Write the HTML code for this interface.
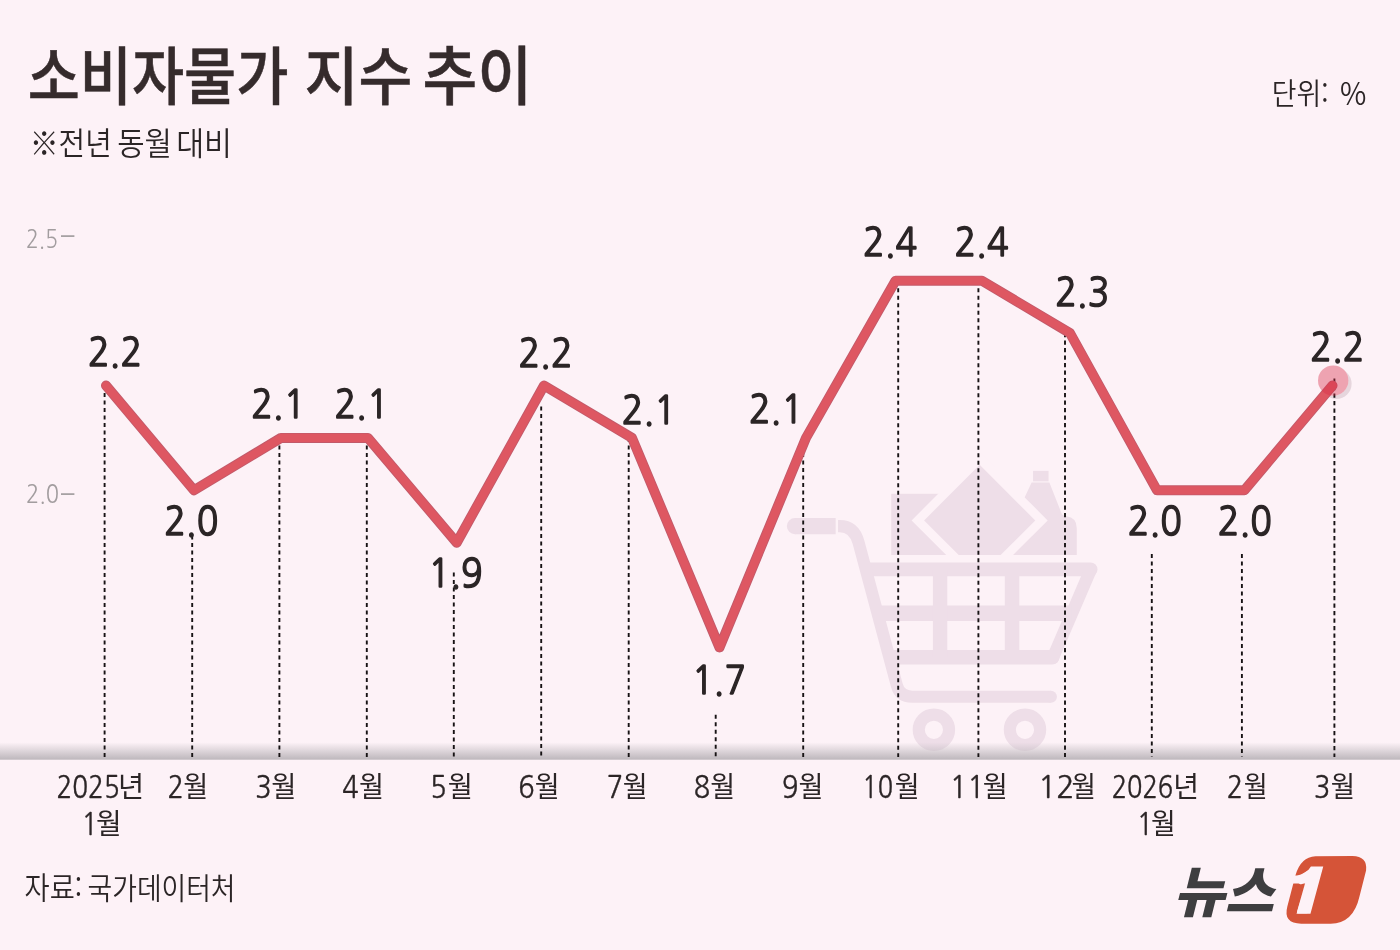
<!DOCTYPE html>
<html lang="ko"><head><meta charset="utf-8"><title>소비자물가 지수 추이</title>
<style>
html,body{margin:0;padding:0;background:#fdf2f7;}
body{width:1400px;height:950px;overflow:hidden;}
svg{display:block;}
text{font-family:"Liberation Sans","Noto Sans CJK KR",sans-serif;fill:#2b2526;}
</style></head><body>
<svg width="1400" height="950" viewBox="0 0 1400 950">
<defs>
<linearGradient id="band" x1="0" y1="0" x2="0" y2="1">
<stop offset="0" stop-color="#bdb7bc" stop-opacity="0"/>
<stop offset="1" stop-color="#bdb7bc" stop-opacity="1"/>
</linearGradient>
<clipPath id="itemclip"><rect x="300" y="0" width="700" height="312"/></clipPath>
</defs>
<rect width="1400" height="950" fill="#fdf2f7"/>

<line x1="61" x2="74.4" y1="236.1" y2="236.1" stroke="#a29d9f" stroke-width="1.7"/>
<line x1="61" x2="74.4" y1="494.1" y2="494.1" stroke="#a29d9f" stroke-width="1.7"/>
<g transform="translate(770,450) scale(0.33681)" fill="#eedee8" stroke="none">
<g clip-path="url(#itemclip)">
<rect x="360" y="130" width="200" height="200"/>
<rect x="781" y="62" width="46" height="31"/>
<path d="M776.8,96.3 L829.5,96.3 L866,189 Q869,196 880,197 Q910.8,201 910.8,232 L910.8,330 L700,330 L700,260 Z"/>
<polygon points="622.5,7 824.5,209 622.5,411 420.5,209" fill="#fdf2f7"/>
<polygon points="622.5,44 787.5,209 622.5,374 457.5,209"/>
</g>
<g stroke="#eedee8" fill="none" stroke-linecap="round" stroke-linejoin="round">
<line x1="290" y1="354.5" x2="952" y2="354.5" stroke-width="40.6"/>
<line x1="952" y1="355.5" x2="840" y2="616.5" stroke-width="37"/>
<line x1="365" y1="615.6" x2="838" y2="615.6" stroke-width="43"/>
<line x1="325" y1="484.5" x2="895" y2="484.5" stroke-width="46" stroke-linecap="butt"/>
<line x1="505" y1="355" x2="505" y2="616" stroke-width="42.6" stroke-linecap="butt"/>
<line x1="718.7" y1="355" x2="718.7" y2="616" stroke-width="43" stroke-linecap="butt"/>
<line x1="74" y1="226" x2="195" y2="226" stroke-width="48" stroke-linecap="butt"/>
<circle cx="74" cy="226" r="24" fill="#eedee8" stroke="none"/>
<path d="M202,226 L207,226 Q250,226 262.9,274.3 L376.4,698.2 Q385.4,732.5 422,732.5 L834,732.5" stroke-width="36" stroke-linecap="butt"/>
<circle cx="834" cy="732.5" r="18" fill="#eedee8" stroke="none"/>
<circle cx="486.6" cy="830.7" r="45" stroke-width="36"/>
<circle cx="757.1" cy="830.7" r="45" stroke-width="36"/>
</g></g>
<rect x="0" y="742.3" width="1400" height="17.4" fill="url(#band)"/>
<circle cx="1336.4" cy="383.8" r="15.2" fill="#e6d6dd"/>
<circle cx="1333.2" cy="380.6" r="15.2" fill="#fdf2f7"/>
<line x1="104.6" x2="104.6" y1="385.5" y2="757" stroke="#171314" stroke-width="1.9" stroke-dasharray="4.1 3.4"/>
<line x1="192.2" x2="192.2" y1="535.5" y2="757" stroke="#171314" stroke-width="1.9" stroke-dasharray="4.1 3.4"/>
<line x1="279.4" x2="279.4" y1="437.9" y2="757" stroke="#171314" stroke-width="1.9" stroke-dasharray="4.1 3.4"/>
<line x1="366.8" x2="366.8" y1="437.9" y2="757" stroke="#171314" stroke-width="1.9" stroke-dasharray="4.1 3.4"/>
<line x1="453.8" x2="453.8" y1="572.5" y2="757" stroke="#171314" stroke-width="1.9" stroke-dasharray="4.1 3.4"/>
<line x1="541.2" x2="541.2" y1="406.5" y2="757" stroke="#171314" stroke-width="1.9" stroke-dasharray="4.1 3.4"/>
<line x1="628.7" x2="628.7" y1="437.9" y2="757" stroke="#171314" stroke-width="1.9" stroke-dasharray="4.1 3.4"/>
<line x1="715.7" x2="715.7" y1="714.7" y2="757" stroke="#171314" stroke-width="1.9" stroke-dasharray="4.1 3.4"/>
<line x1="803.2" x2="803.2" y1="437.9" y2="757" stroke="#171314" stroke-width="1.9" stroke-dasharray="4.1 3.4"/>
<line x1="898.2" x2="898.2" y1="280.7" y2="757" stroke="#171314" stroke-width="1.9" stroke-dasharray="4.1 3.4"/>
<line x1="978.4" x2="978.4" y1="280.7" y2="757" stroke="#171314" stroke-width="1.9" stroke-dasharray="4.1 3.4"/>
<line x1="1065" x2="1065" y1="333.1" y2="757" stroke="#171314" stroke-width="1.9" stroke-dasharray="4.1 3.4"/>
<line x1="1151.8" x2="1151.8" y1="554.0" y2="757" stroke="#171314" stroke-width="1.9" stroke-dasharray="4.1 3.4"/>
<line x1="1241.9" x2="1241.9" y1="554.0" y2="757" stroke="#171314" stroke-width="1.9" stroke-dasharray="4.1 3.4"/>
<line x1="1334.4" x2="1334.4" y1="378.6" y2="757" stroke="#171314" stroke-width="1.9" stroke-dasharray="4.1 3.4"/>
<polyline points="106,385.5 194,490.3 281,437.9 368,437.9 456.7,542.7 544,385.5 632,437.9 719.5,647.5 806,437.9 895.5,280.7 982,280.7 1070,333.1 1157,490.3 1244.4,490.3 1332.5,385.5" fill="none" stroke="#c25a6a" stroke-width="10" stroke-linecap="round" stroke-linejoin="round"/>
<polyline points="106,385.5 194,490.3 281,437.9 368,437.9 456.7,542.7 544,385.5 632,437.9 719.5,647.5 806,437.9 895.5,280.7 982,280.7 1070,333.1 1157,490.3 1244.4,490.3 1332.5,385.5" fill="none" stroke="#de5762" stroke-width="8.2" stroke-linecap="round" stroke-linejoin="round"/>
<circle cx="1333.2" cy="380.6" r="15.2" fill="#d72d48" fill-opacity="0.40"/>
<text transform="translate(27.69,98.80) scale(0.8981,1)" font-size="63.10" style='font-family:"Noto Sans CJK KR","Liberation Sans",sans-serif;font-weight:500;fill:#352b2c;' stroke='#352b2c' stroke-width='0.5'>소비자물가</text> <text transform="translate(304.53,98.80) scale(0.9283,1)" font-size="63.10" style='font-family:"Noto Sans CJK KR","Liberation Sans",sans-serif;font-weight:500;fill:#352b2c;' stroke='#352b2c' stroke-width='0.5'>지수</text> <text transform="translate(422.62,98.80) scale(0.9438,1)" font-size="63.10" style='font-family:"Noto Sans CJK KR","Liberation Sans",sans-serif;font-weight:500;fill:#352b2c;' stroke='#352b2c' stroke-width='0.5'>추이</text>
<text transform="translate(29.65,155.30) scale(0.9036,1)" font-size="32.00" style='font-family:"Noto Sans CJK KR","Liberation Sans",sans-serif;font-weight:350;'>※전년</text> <text transform="translate(117.20,155.30) scale(0.9294,1)" font-size="32.00" style='font-family:"Noto Sans CJK KR","Liberation Sans",sans-serif;font-weight:350;'>동월</text> <text transform="translate(176.18,155.30) scale(0.9490,1)" font-size="32.00" style='font-family:"Noto Sans CJK KR","Liberation Sans",sans-serif;font-weight:350;'>대비</text>
<text transform="translate(1271.75,103.90) scale(0.9202,1)" font-size="29.19" style='font-family:"Noto Sans CJK KR","Liberation Sans",sans-serif;font-weight:350;'>단위:</text> <text transform="translate(1339.92,104.60) scale(0.9197,1)" font-size="31.39" style='font-family:"Noto Sans CJK KR","Liberation Sans",sans-serif;font-weight:350;'>%</text>
<text transform="translate(24.60,899.40) scale(0.8981,1)" font-size="30.38" style='font-family:"Noto Sans CJK KR","Liberation Sans",sans-serif;font-weight:350;'>자료:</text> <text transform="translate(87.60,899.15) scale(0.8981,1)" font-size="29.84" style='font-family:"Noto Sans CJK KR","Liberation Sans",sans-serif;font-weight:350;'>국가데이터처</text>
<text transform="translate(25.95,247.53) scale(0.8655,1)" font-size="24.46" style='font-family:"NanumGothic","Liberation Sans",sans-serif;font-weight:400;fill:#a29d9f;'>2.5</text>
<text transform="translate(25.92,502.73) scale(0.8983,1)" font-size="24.42" style='font-family:"NanumGothic","Liberation Sans",sans-serif;font-weight:400;fill:#a29d9f;'>2.0</text>
<text transform="translate(87.95,366.20) scale(0.8850,1)" font-size="40.40" style='font-family:"NanumGothic","Liberation Sans",sans-serif;font-weight:400;' stroke='#2b2526' stroke-width='1.55' stroke-linejoin='miter'>2.2</text>
<text transform="translate(164.15,534.50) scale(0.8850,1)" font-size="40.40" style='font-family:"NanumGothic","Liberation Sans",sans-serif;font-weight:400;' stroke='#2b2526' stroke-width='1.55' stroke-linejoin='miter'>2.0</text>
<text transform="translate(251.15,418.20) scale(0.8850,1)" font-size="40.40" style='font-family:"NanumGothic","Liberation Sans",sans-serif;font-weight:400;' stroke='#2b2526' stroke-width='1.55' stroke-linejoin='miter'>2.1</text>
<text transform="translate(334.45,418.20) scale(0.8850,1)" font-size="40.40" style='font-family:"NanumGothic","Liberation Sans",sans-serif;font-weight:400;' stroke='#2b2526' stroke-width='1.55' stroke-linejoin='miter'>2.1</text>
<text transform="translate(428.62,586.70) scale(0.8850,1)" font-size="40.40" style='font-family:"NanumGothic","Liberation Sans",sans-serif;font-weight:400;' stroke='#2b2526' stroke-width='1.55' stroke-linejoin='miter'>1.9</text>
<text transform="translate(518.45,366.70) scale(0.8850,1)" font-size="40.40" style='font-family:"NanumGothic","Liberation Sans",sans-serif;font-weight:400;' stroke='#2b2526' stroke-width='1.55' stroke-linejoin='miter'>2.2</text>
<text transform="translate(621.75,423.80) scale(0.8850,1)" font-size="40.40" style='font-family:"NanumGothic","Liberation Sans",sans-serif;font-weight:400;' stroke='#2b2526' stroke-width='1.55' stroke-linejoin='miter'>2.1</text>
<text transform="translate(691.92,693.50) scale(0.8850,1)" font-size="40.40" style='font-family:"NanumGothic","Liberation Sans",sans-serif;font-weight:400;' stroke='#2b2526' stroke-width='1.55' stroke-linejoin='miter'>1.7</text>
<text transform="translate(748.95,423.20) scale(0.8850,1)" font-size="40.40" style='font-family:"NanumGothic","Liberation Sans",sans-serif;font-weight:400;' stroke='#2b2526' stroke-width='1.55' stroke-linejoin='miter'>2.1</text>
<text transform="translate(863.05,255.80) scale(0.8850,1)" font-size="40.40" style='font-family:"NanumGothic","Liberation Sans",sans-serif;font-weight:400;' stroke='#2b2526' stroke-width='1.55' stroke-linejoin='miter'>2.4</text>
<text transform="translate(954.45,255.80) scale(0.8850,1)" font-size="40.40" style='font-family:"NanumGothic","Liberation Sans",sans-serif;font-weight:400;' stroke='#2b2526' stroke-width='1.55' stroke-linejoin='miter'>2.4</text>
<text transform="translate(1055.15,305.50) scale(0.8850,1)" font-size="40.40" style='font-family:"NanumGothic","Liberation Sans",sans-serif;font-weight:400;' stroke='#2b2526' stroke-width='1.55' stroke-linejoin='miter'>2.3</text>
<text transform="translate(1127.75,535.20) scale(0.8850,1)" font-size="40.40" style='font-family:"NanumGothic","Liberation Sans",sans-serif;font-weight:400;' stroke='#2b2526' stroke-width='1.55' stroke-linejoin='miter'>2.0</text>
<text transform="translate(1217.75,535.20) scale(0.8850,1)" font-size="40.40" style='font-family:"NanumGothic","Liberation Sans",sans-serif;font-weight:400;' stroke='#2b2526' stroke-width='1.55' stroke-linejoin='miter'>2.0</text>
<text transform="translate(1310.25,360.80) scale(0.8850,1)" font-size="40.40" style='font-family:"NanumGothic","Liberation Sans",sans-serif;font-weight:400;' stroke='#2b2526' stroke-width='1.55' stroke-linejoin='miter'>2.2</text>
<text transform="translate(56.42,797.50) scale(0.8683,1)" font-size="30.10" style='font-family:"NanumGothic","Liberation Sans",sans-serif;font-weight:400;' stroke='#2b2526' stroke-width='0.4'>2025</text><text transform="translate(117.99,797.20) scale(0.9834,1)" font-size="28.90" style='font-family:"Noto Sans CJK KR","Liberation Sans",sans-serif;font-weight:400;'>년</text>
<text transform="translate(167.43,797.50) scale(0.9000,1)" font-size="30.10" style='font-family:"NanumGothic","Liberation Sans",sans-serif;font-weight:400;' stroke='#2b2526' stroke-width='0.4'>2</text><text transform="translate(183.14,797.20) scale(0.9477,1)" font-size="28.68" style='font-family:"Noto Sans CJK KR","Liberation Sans",sans-serif;font-weight:400;'>월</text>
<text transform="translate(255.37,797.50) scale(0.9000,1)" font-size="30.10" style='font-family:"NanumGothic","Liberation Sans",sans-serif;font-weight:400;' stroke='#2b2526' stroke-width='0.4'>3</text><text transform="translate(271.23,797.20) scale(0.9520,1)" font-size="28.68" style='font-family:"Noto Sans CJK KR","Liberation Sans",sans-serif;font-weight:400;'>월</text>
<text transform="translate(342.36,797.50) scale(0.9000,1)" font-size="30.10" style='font-family:"NanumGothic","Liberation Sans",sans-serif;font-weight:400;' stroke='#2b2526' stroke-width='0.4'>4</text><text transform="translate(359.04,797.20) scale(0.9477,1)" font-size="28.68" style='font-family:"Noto Sans CJK KR","Liberation Sans",sans-serif;font-weight:400;'>월</text>
<text transform="translate(430.21,797.50) scale(0.9000,1)" font-size="30.10" style='font-family:"NanumGothic","Liberation Sans",sans-serif;font-weight:400;' stroke='#2b2526' stroke-width='0.4'>5</text><text transform="translate(447.63,797.20) scale(0.9520,1)" font-size="28.68" style='font-family:"Noto Sans CJK KR","Liberation Sans",sans-serif;font-weight:400;'>월</text>
<text transform="translate(518.25,797.50) scale(0.9000,1)" font-size="30.10" style='font-family:"NanumGothic","Liberation Sans",sans-serif;font-weight:400;' stroke='#2b2526' stroke-width='0.4'>6</text><text transform="translate(534.84,797.20) scale(0.9430,1)" font-size="28.68" style='font-family:"Noto Sans CJK KR","Liberation Sans",sans-serif;font-weight:400;'>월</text>
<text transform="translate(606.76,797.50) scale(0.9000,1)" font-size="30.10" style='font-family:"NanumGothic","Liberation Sans",sans-serif;font-weight:400;' stroke='#2b2526' stroke-width='0.4'>7</text><text transform="translate(622.84,797.20) scale(0.9430,1)" font-size="28.68" style='font-family:"Noto Sans CJK KR","Liberation Sans",sans-serif;font-weight:400;'>월</text>
<text transform="translate(693.84,797.50) scale(0.9000,1)" font-size="30.10" style='font-family:"NanumGothic","Liberation Sans",sans-serif;font-weight:400;' stroke='#2b2526' stroke-width='0.4'>8</text><text transform="translate(710.34,797.20) scale(0.9430,1)" font-size="28.68" style='font-family:"Noto Sans CJK KR","Liberation Sans",sans-serif;font-weight:400;'>월</text>
<text transform="translate(781.99,797.50) scale(0.9000,1)" font-size="30.10" style='font-family:"NanumGothic","Liberation Sans",sans-serif;font-weight:400;' stroke='#2b2526' stroke-width='0.4'>9</text><text transform="translate(798.54,797.20) scale(0.9448,1)" font-size="28.68" style='font-family:"Noto Sans CJK KR","Liberation Sans",sans-serif;font-weight:400;'>월</text>
<text transform="translate(862.35,797.50) scale(0.8409,1)" font-size="30.10" style='font-family:"NanumGothic","Liberation Sans",sans-serif;font-weight:400;' stroke='#2b2526' stroke-width='0.4'>10</text><text transform="translate(894.64,797.20) scale(0.9422,1)" font-size="28.68" style='font-family:"Noto Sans CJK KR","Liberation Sans",sans-serif;font-weight:400;'>월</text>
<text transform="translate(949.86,797.50) scale(0.9523,1)" font-size="30.10" style='font-family:"NanumGothic","Liberation Sans",sans-serif;font-weight:400;' stroke='#2b2526' stroke-width='0.4'>11</text><text transform="translate(982.74,797.20) scale(0.9477,1)" font-size="28.68" style='font-family:"Noto Sans CJK KR","Liberation Sans",sans-serif;font-weight:400;'>월</text>
<text transform="translate(1037.95,797.50) scale(1.0083,1)" font-size="30.10" style='font-family:"NanumGothic","Liberation Sans",sans-serif;font-weight:400;' stroke='#2b2526' stroke-width='0.4'>12</text><text transform="translate(1071.47,797.20) scale(0.9254,1)" font-size="28.68" style='font-family:"Noto Sans CJK KR","Liberation Sans",sans-serif;font-weight:400;'>월</text>
<text transform="translate(1111.64,797.50) scale(0.8451,1)" font-size="30.10" style='font-family:"NanumGothic","Liberation Sans",sans-serif;font-weight:400;' stroke='#2b2526' stroke-width='0.4'>2026</text><text transform="translate(1173.13,797.20) scale(0.9689,1)" font-size="28.90" style='font-family:"Noto Sans CJK KR","Liberation Sans",sans-serif;font-weight:400;'>년</text>
<text transform="translate(1226.85,797.50) scale(0.9000,1)" font-size="30.10" style='font-family:"NanumGothic","Liberation Sans",sans-serif;font-weight:400;' stroke='#2b2526' stroke-width='0.4'>2</text><text transform="translate(1243.69,797.20) scale(0.9068,1)" font-size="28.68" style='font-family:"Noto Sans CJK KR","Liberation Sans",sans-serif;font-weight:400;'>월</text>
<text transform="translate(1313.97,797.50) scale(0.9000,1)" font-size="30.10" style='font-family:"NanumGothic","Liberation Sans",sans-serif;font-weight:400;' stroke='#2b2526' stroke-width='0.4'>3</text><text transform="translate(1330.67,797.20) scale(0.9214,1)" font-size="28.68" style='font-family:"Noto Sans CJK KR","Liberation Sans",sans-serif;font-weight:400;'>월</text>
<text transform="translate(81.39,834.60) scale(0.9000,1)" font-size="30.10" style='font-family:"NanumGothic","Liberation Sans",sans-serif;font-weight:400;' stroke='#2b2526' stroke-width='0.4'>1</text><text transform="translate(95.91,834.30) scale(0.9922,1)" font-size="28.04" style='font-family:"Noto Sans CJK KR","Liberation Sans",sans-serif;font-weight:400;'>월</text>
<text transform="translate(1136.64,834.60) scale(0.9000,1)" font-size="30.10" style='font-family:"NanumGothic","Liberation Sans",sans-serif;font-weight:400;' stroke='#2b2526' stroke-width='0.4'>1</text><text transform="translate(1151.05,834.30) scale(0.9581,1)" font-size="28.04" style='font-family:"Noto Sans CJK KR","Liberation Sans",sans-serif;font-weight:400;'>월</text>

<g transform="translate(1270,845) scale(0.094745)">
<path d="M480,119 L870,117 Q1030,120 1014,268 L945,540 Q880,828 640,830 L330,830 Q136,830 183,650 L268,322 Q325,125 480,119 Z" fill="#d55438"/>
<path d="M120,322 L283,322 Q385,305 432,226 L562,226 L427,726 L280,726 L380,406 L120,406 Z" fill="#fdf2f7"/>
</g>
<g transform="translate(1173.3,912) skewX(-14) scale(1.015,1)"><text x="0" y="0" font-size="55" style='font-family:"Noto Sans CJK KR","Liberation Sans",sans-serif;font-weight:900;fill:#3e3e40'>뉴</text></g><g transform="translate(1224.8,912) skewX(-14) scale(0.968,1)"><text x="0" y="0" font-size="55" style='font-family:"Noto Sans CJK KR","Liberation Sans",sans-serif;font-weight:900;fill:#3e3e40'>스</text></g><g transform="translate(1279.9,911.6) skewX(-15.8) scale(1.30,1)"><text x="0" y="0" font-size="55.5" style='font-family:"NanumGothic","Liberation Sans",sans-serif;font-weight:800;fill:#fdf2f7;stroke:#fdf2f7;stroke-width:2.2px;stroke-linejoin:miter'>1</text></g>
</svg></body></html>
